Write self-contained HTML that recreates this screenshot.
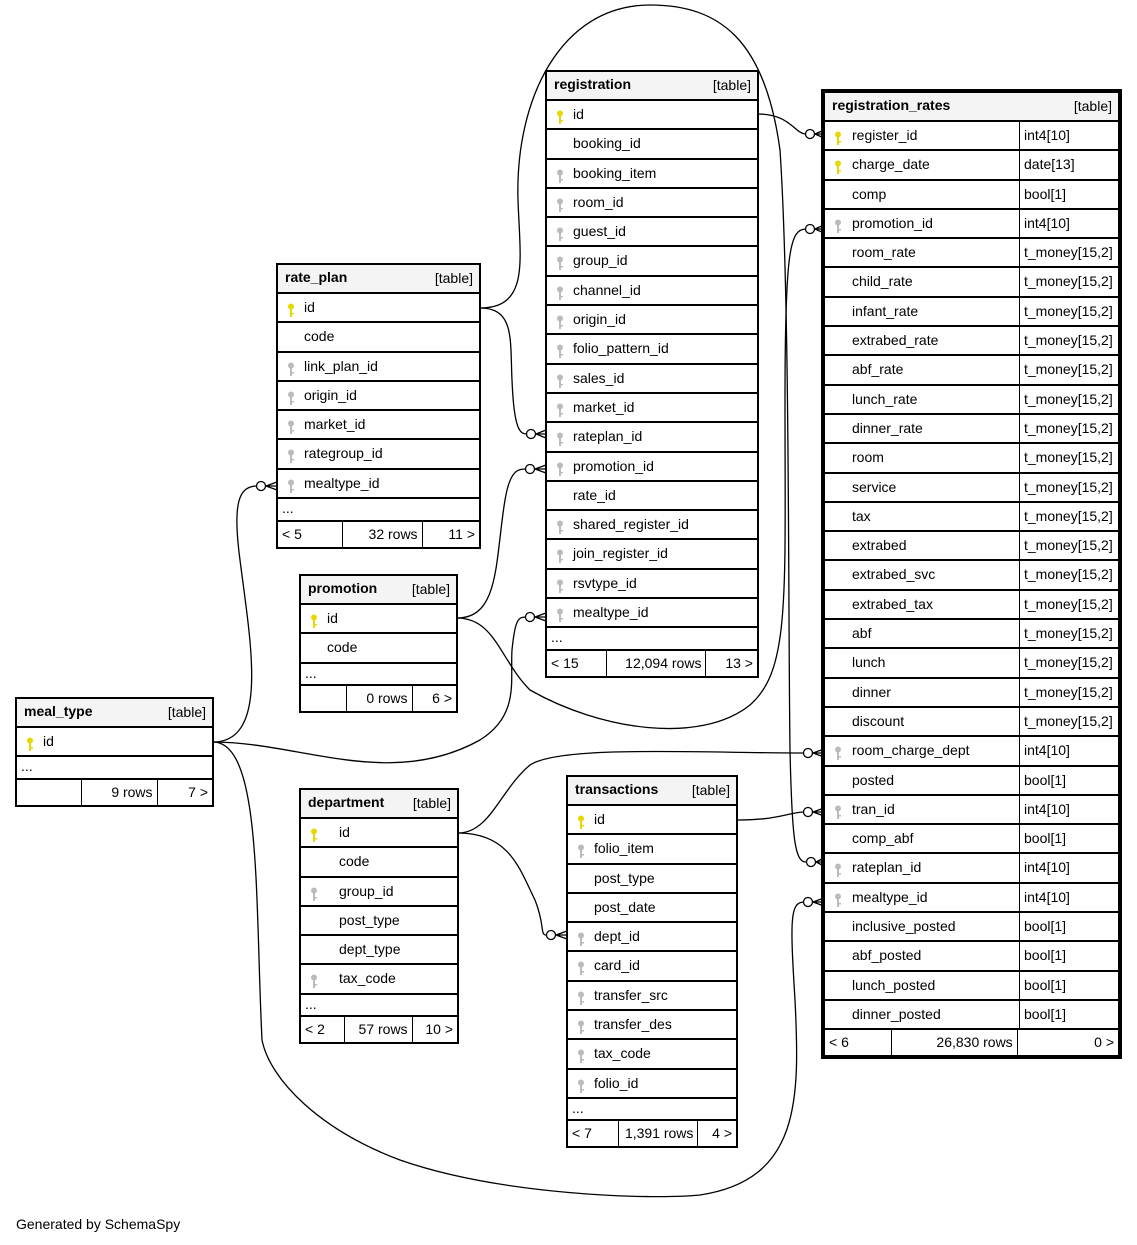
<!DOCTYPE html>
<html><head><meta charset="utf-8"><style>
body{margin:0;width:1137px;height:1245px;background:#fff;position:relative;font-family:"Liberation Sans",sans-serif;font-size:14px;color:#000;overflow:hidden}
.t{position:absolute;background:#fff;outline:1px solid #000}
.h,.r,.d,.f{box-sizing:border-box;border:1px solid #000;position:relative}
.h{height:29px;background:#f4f4f4;font-weight:bold;padding:4px 7px}
.h span{position:absolute;right:6px;top:5px;font-weight:normal}
.r{height:29.3px;line-height:27px}
.r i{position:absolute;left:9px;top:6px;width:8px;height:15px}
.r b{font-weight:normal;position:absolute}
.d{height:22.5px;line-height:18px;padding-left:4px}
.f{height:27px;display:flex;line-height:25px}
.f div{border-right:1px solid #000;box-sizing:border-box;padding:0 4px}
.f div:last-child{border:none;text-align:right}
.ty{position:absolute;left:194px;top:0;bottom:0;border-left:1px solid #000;padding-left:4px}
.gen{position:absolute;left:16px;top:1216px}
</style></head><body>
<svg width="0" height="0" style="position:absolute"><defs>
<symbol id="pk" viewBox="0 0 8 15"><circle cx="4" cy="3.5" r="3" fill="#e6d800"/><rect x="3" y="5" width="2" height="9" fill="#e6d800"/><rect x="5" y="10" width="2" height="1.5" fill="#e6d800"/></symbol>
<symbol id="fk" viewBox="0 0 8 15"><circle cx="4" cy="3.5" r="3" fill="#bbb"/><rect x="3" y="5" width="2" height="9" fill="#bbb"/><rect x="5" y="10" width="2" height="1.5" fill="#bbb"/></symbol>
</defs></svg>

<svg width="1137" height="1245" style="position:absolute;left:0;top:0" fill="none" stroke="#000" stroke-width="1.3">
<path d="M758,114 C790,114 795,134 806,134"/>
<path d="M480,308 C530,308 520,260 518,200 C515,100 560,5 650,5 C720,5 765,40 780,150 C790,300 788,600 790,750 C792,840 795,862 806,862"/>
<path d="M480,308 C515,308 510,340 512,380 C514,430 520,434 527,434"/>
<path d="M457,618 C500,618 495,560 505,500 C510,470 518,469 526,469"/>
<path d="M457,618 C495,618 500,660 530,690 C600,730 700,745 750,705 C790,670 785,600 785,400 C785,250 790,229 806,229"/>
<path d="M213,742 C270,742 250,640 240,560 C232,500 240,487 256,486"/>
<path d="M213,742 C300,742 390,790 480,740 C520,715 510,680 512,650 C515,620 518,617 526,617"/>
<path d="M213,742 C262,742 255,900 262,1040 C270,1080 320,1130 400,1160 C500,1195 650,1200 700,1195 C800,1180 800,1100 795,1000 C790,920 790,902 804,902"/>
<path d="M458,833 C490,833 500,790 530,765 C560,745 700,753 804,753"/>
<path d="M458,833 C510,833 520,870 535,900 C545,925 540,935 546,935"/>
<path d="M737,820 C780,820 790,812 804,812"/>
<g fill="#fff">
<circle cx="810" cy="134" r="4.5"/><circle cx="811" cy="862" r="4.5"/><circle cx="531" cy="434" r="4.5"/><circle cx="530" cy="469" r="4.5"/><circle cx="810" cy="229" r="4.5"/><circle cx="261" cy="486" r="4.5"/><circle cx="530" cy="617" r="4.5"/><circle cx="808" cy="902" r="4.5"/><circle cx="808" cy="753" r="4.5"/><circle cx="551" cy="935" r="4.5"/><circle cx="808" cy="812" r="4.5"/>
</g>
<g>
<path d="M815,134 L824,130 M815,134 L824,138 M815,134 L824,134"/>
<path d="M816,862 L824,858 M816,862 L824,866 M816,862 L824,862"/>
<path d="M536,434 L546,430 M536,434 L546,438 M536,434 L546,434"/>
<path d="M535,469 L546,465 M535,469 L546,473 M535,469 L546,469"/>
<path d="M815,229 L824,225 M815,229 L824,233 M815,229 L824,229"/>
<path d="M266,486 L277,482 M266,486 L277,490 M266,486 L277,486"/>
<path d="M535,617 L546,613 M535,617 L546,621 M535,617 L546,617"/>
<path d="M813,902 L824,898 M813,902 L824,906 M813,902 L824,902"/>
<path d="M813,753 L824,749 M813,753 L824,757 M813,753 L824,753"/>
<path d="M556,935 L567,931 M556,935 L567,939 M556,935 L567,935"/>
<path d="M813,812 L824,808 M813,812 L824,816 M813,812 L824,812"/>
</g>
</svg>

<!-- registration -->
<div class="t" style="left:546px;top:71px;width:212px">
<div class="h">registration<span>[table]</span></div>
<div class="r"><i><svg width="8" height="15"><use href="#pk"/></svg></i><b style="left:26px">id</b></div>
<div class="r"><b style="left:26px">booking_id</b></div>
<div class="r"><i><svg width="8" height="15"><use href="#fk"/></svg></i><b style="left:26px">booking_item</b></div>
<div class="r"><i><svg width="8" height="15"><use href="#fk"/></svg></i><b style="left:26px">room_id</b></div>
<div class="r"><i><svg width="8" height="15"><use href="#fk"/></svg></i><b style="left:26px">guest_id</b></div>
<div class="r"><i><svg width="8" height="15"><use href="#fk"/></svg></i><b style="left:26px">group_id</b></div>
<div class="r"><i><svg width="8" height="15"><use href="#fk"/></svg></i><b style="left:26px">channel_id</b></div>
<div class="r"><i><svg width="8" height="15"><use href="#fk"/></svg></i><b style="left:26px">origin_id</b></div>
<div class="r"><i><svg width="8" height="15"><use href="#fk"/></svg></i><b style="left:26px">folio_pattern_id</b></div>
<div class="r"><i><svg width="8" height="15"><use href="#fk"/></svg></i><b style="left:26px">sales_id</b></div>
<div class="r"><i><svg width="8" height="15"><use href="#fk"/></svg></i><b style="left:26px">market_id</b></div>
<div class="r"><i><svg width="8" height="15"><use href="#fk"/></svg></i><b style="left:26px">rateplan_id</b></div>
<div class="r"><i><svg width="8" height="15"><use href="#fk"/></svg></i><b style="left:26px">promotion_id</b></div>
<div class="r"><b style="left:26px">rate_id</b></div>
<div class="r"><i><svg width="8" height="15"><use href="#fk"/></svg></i><b style="left:26px">shared_register_id</b></div>
<div class="r"><i><svg width="8" height="15"><use href="#fk"/></svg></i><b style="left:26px">join_register_id</b></div>
<div class="r"><i><svg width="8" height="15"><use href="#fk"/></svg></i><b style="left:26px">rsvtype_id</b></div>
<div class="r"><i><svg width="8" height="15"><use href="#fk"/></svg></i><b style="left:26px">mealtype_id</b></div>
<div class="d">...</div>
<div class="f"><div style="width:61px">&lt; 15</div><div style="width:100px;text-align:right">12,094 rows</div><div style="width:51px">13 &gt;</div></div>
</div>

<!-- rate_plan -->
<div class="t" style="left:277px;top:264px;width:203px">
<div class="h">rate_plan<span>[table]</span></div>
<div class="r"><i><svg width="8" height="15"><use href="#pk"/></svg></i><b style="left:26px">id</b></div>
<div class="r"><b style="left:26px">code</b></div>
<div class="r"><i><svg width="8" height="15"><use href="#fk"/></svg></i><b style="left:26px">link_plan_id</b></div>
<div class="r"><i><svg width="8" height="15"><use href="#fk"/></svg></i><b style="left:26px">origin_id</b></div>
<div class="r"><i><svg width="8" height="15"><use href="#fk"/></svg></i><b style="left:26px">market_id</b></div>
<div class="r"><i><svg width="8" height="15"><use href="#fk"/></svg></i><b style="left:26px">rategroup_id</b></div>
<div class="r"><i><svg width="8" height="15"><use href="#fk"/></svg></i><b style="left:26px">mealtype_id</b></div>
<div class="d">...</div>
<div class="f"><div style="width:66px">&lt; 5</div><div style="width:80px;text-align:right">32 rows</div><div style="width:57px">11 &gt;</div></div>
</div>

<!-- promotion -->
<div class="t" style="left:300px;top:575px;width:157px">
<div class="h">promotion<span>[table]</span></div>
<div class="r"><i><svg width="8" height="15"><use href="#pk"/></svg></i><b style="left:26px">id</b></div>
<div class="r"><b style="left:26px">code</b></div>
<div class="d">...</div>
<div class="f"><div style="width:47px"></div><div style="width:66px;text-align:right">0 rows</div><div style="width:44px">6 &gt;</div></div>
</div>

<!-- meal_type -->
<div class="t" style="left:16px;top:698px;width:197px">
<div class="h">meal_type<span>[table]</span></div>
<div class="r"><i><svg width="8" height="15"><use href="#pk"/></svg></i><b style="left:26px">id</b></div>
<div class="d">...</div>
<div class="f"><div style="width:66px"></div><div style="width:76px;text-align:right">9 rows</div><div style="width:55px">7 &gt;</div></div>
</div>

<!-- department -->
<div class="t" style="left:300px;top:789px;width:158px">
<div class="h">department<span>[table]</span></div>
<div class="r"><i><svg width="8" height="15"><use href="#pk"/></svg></i><b style="left:38px">id</b></div>
<div class="r"><b style="left:38px">code</b></div>
<div class="r"><i><svg width="8" height="15"><use href="#fk"/></svg></i><b style="left:38px">group_id</b></div>
<div class="r"><b style="left:38px">post_type</b></div>
<div class="r"><b style="left:38px">dept_type</b></div>
<div class="r"><i><svg width="8" height="15"><use href="#fk"/></svg></i><b style="left:38px">tax_code</b></div>
<div class="d">...</div>
<div class="f"><div style="width:45px">&lt; 2</div><div style="width:68px;text-align:right">57 rows</div><div style="width:45px">10 &gt;</div></div>
</div>

<!-- transactions -->
<div class="t" style="left:567px;top:776px;width:170px">
<div class="h">transactions<span>[table]</span></div>
<div class="r"><i><svg width="8" height="15"><use href="#pk"/></svg></i><b style="left:26px">id</b></div>
<div class="r"><i><svg width="8" height="15"><use href="#fk"/></svg></i><b style="left:26px">folio_item</b></div>
<div class="r"><b style="left:26px">post_type</b></div>
<div class="r"><b style="left:26px">post_date</b></div>
<div class="r"><i><svg width="8" height="15"><use href="#fk"/></svg></i><b style="left:26px">dept_id</b></div>
<div class="r"><i><svg width="8" height="15"><use href="#fk"/></svg></i><b style="left:26px">card_id</b></div>
<div class="r"><i><svg width="8" height="15"><use href="#fk"/></svg></i><b style="left:26px">transfer_src</b></div>
<div class="r"><i><svg width="8" height="15"><use href="#fk"/></svg></i><b style="left:26px">transfer_des</b></div>
<div class="r"><i><svg width="8" height="15"><use href="#fk"/></svg></i><b style="left:26px">tax_code</b></div>
<div class="r"><i><svg width="8" height="15"><use href="#fk"/></svg></i><b style="left:26px">folio_id</b></div>
<div class="d">...</div>
<div class="f"><div style="width:52px">&lt; 7</div><div style="width:80px;text-align:right">1,391 rows</div><div style="width:38px">4 &gt;</div></div>
</div>

<!-- registration_rates -->
<div class="t" style="left:824px;top:92px;width:295px;outline:3px solid #000">
<div class="h">registration_rates<span>[table]</span></div>
<div class="r"><i><svg width="8" height="15"><use href="#pk"/></svg></i><b style="left:27px">register_id</b><b class="ty">int4[10]</b></div>
<div class="r"><i><svg width="8" height="15"><use href="#pk"/></svg></i><b style="left:27px">charge_date</b><b class="ty">date[13]</b></div>
<div class="r"><b style="left:27px">comp</b><b class="ty">bool[1]</b></div>
<div class="r"><i><svg width="8" height="15"><use href="#fk"/></svg></i><b style="left:27px">promotion_id</b><b class="ty">int4[10]</b></div>
<div class="r"><b style="left:27px">room_rate</b><b class="ty">t_money[15,2]</b></div>
<div class="r"><b style="left:27px">child_rate</b><b class="ty">t_money[15,2]</b></div>
<div class="r"><b style="left:27px">infant_rate</b><b class="ty">t_money[15,2]</b></div>
<div class="r"><b style="left:27px">extrabed_rate</b><b class="ty">t_money[15,2]</b></div>
<div class="r"><b style="left:27px">abf_rate</b><b class="ty">t_money[15,2]</b></div>
<div class="r"><b style="left:27px">lunch_rate</b><b class="ty">t_money[15,2]</b></div>
<div class="r"><b style="left:27px">dinner_rate</b><b class="ty">t_money[15,2]</b></div>
<div class="r"><b style="left:27px">room</b><b class="ty">t_money[15,2]</b></div>
<div class="r"><b style="left:27px">service</b><b class="ty">t_money[15,2]</b></div>
<div class="r"><b style="left:27px">tax</b><b class="ty">t_money[15,2]</b></div>
<div class="r"><b style="left:27px">extrabed</b><b class="ty">t_money[15,2]</b></div>
<div class="r"><b style="left:27px">extrabed_svc</b><b class="ty">t_money[15,2]</b></div>
<div class="r"><b style="left:27px">extrabed_tax</b><b class="ty">t_money[15,2]</b></div>
<div class="r"><b style="left:27px">abf</b><b class="ty">t_money[15,2]</b></div>
<div class="r"><b style="left:27px">lunch</b><b class="ty">t_money[15,2]</b></div>
<div class="r"><b style="left:27px">dinner</b><b class="ty">t_money[15,2]</b></div>
<div class="r"><b style="left:27px">discount</b><b class="ty">t_money[15,2]</b></div>
<div class="r"><i><svg width="8" height="15"><use href="#fk"/></svg></i><b style="left:27px">room_charge_dept</b><b class="ty">int4[10]</b></div>
<div class="r"><b style="left:27px">posted</b><b class="ty">bool[1]</b></div>
<div class="r"><i><svg width="8" height="15"><use href="#fk"/></svg></i><b style="left:27px">tran_id</b><b class="ty">int4[10]</b></div>
<div class="r"><b style="left:27px">comp_abf</b><b class="ty">bool[1]</b></div>
<div class="r"><i><svg width="8" height="15"><use href="#fk"/></svg></i><b style="left:27px">rateplan_id</b><b class="ty">int4[10]</b></div>
<div class="r"><i><svg width="8" height="15"><use href="#fk"/></svg></i><b style="left:27px">mealtype_id</b><b class="ty">int4[10]</b></div>
<div class="r"><b style="left:27px">inclusive_posted</b><b class="ty">bool[1]</b></div>
<div class="r"><b style="left:27px">abf_posted</b><b class="ty">bool[1]</b></div>
<div class="r"><b style="left:27px">lunch_posted</b><b class="ty">bool[1]</b></div>
<div class="r"><b style="left:27px">dinner_posted</b><b class="ty">bool[1]</b></div>
<div class="f"><div style="width:67px">&lt; 6</div><div style="width:127px;text-align:right">26,830 rows</div><div style="width:101px">0 &gt;</div></div>
</div>

<div class="gen">Generated by SchemaSpy</div>
</body></html>
